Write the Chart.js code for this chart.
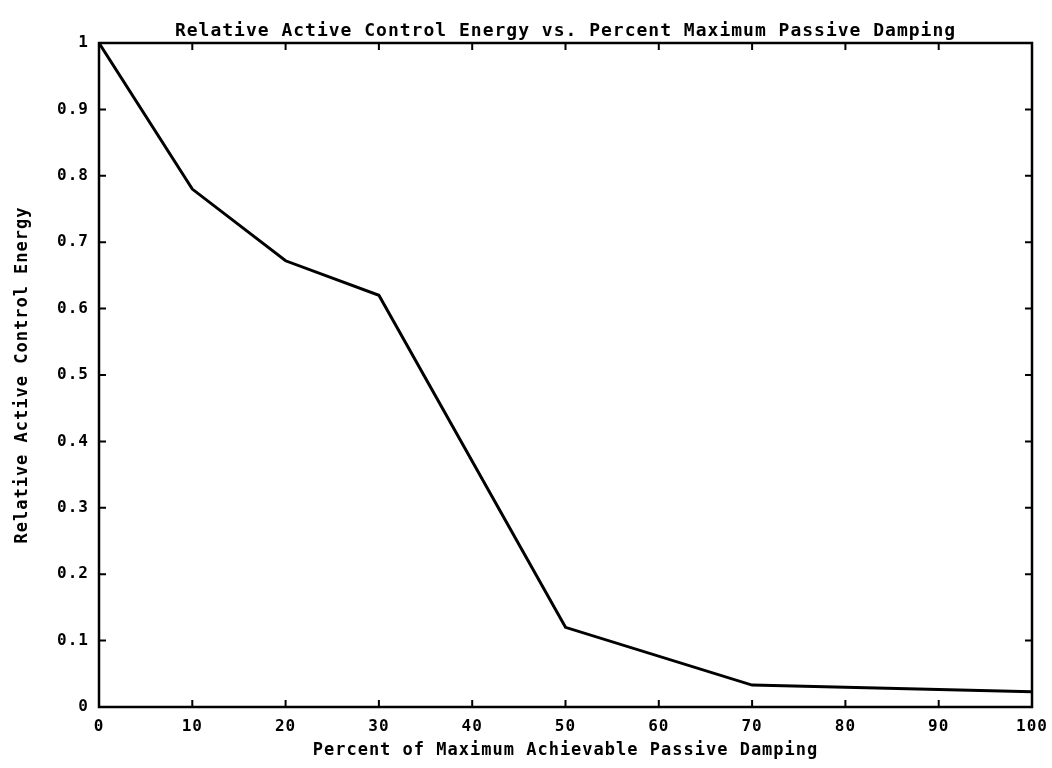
<!DOCTYPE html>
<html>
<head>
<meta charset="utf-8">
<title>Relative Active Control Energy</title>
<script src="https://cdn.jsdelivr.net/npm/chart.js@4/dist/chart.umd.min.js"></script>
<style>
    html, body { margin: 0; padding: 0; background: #fff; }
    #wrap { width: 1052px; height: 768px; }
</style>
</head>
<body>
<div id="wrap"><canvas id="energyChart" width="1052" height="768"></canvas></div>
<script>
// values
const dampingPercent = [0, 10, 20, 30, 50, 70, 100];
const relativeEnergy = [1, 0.78, 0.672, 0.62, 0.12, 0.033, 0.023];

const FONT = 'DejaVu Sans Mono';

// widen the text a bit, the old plotter font is very spaced out
const spacingPlugin = {
    id: 'spacing',
    beforeLayout(chart) { chart.ctx.letterSpacing = '1px'; },
    beforeDraw(chart) { chart.ctx.letterSpacing = '1px'; }
};

// box around the plot with inward tick marks on all four sides
const framePlugin = {
    id: 'frame',
    afterDraw(chart) {
        const { ctx, chartArea, scales } = chart;
        const { left, right, top, bottom } = chartArea;
        const len = 7;
        ctx.save();
        ctx.strokeStyle = '#000';
        ctx.lineWidth = 2.5;
        ctx.strokeRect(left, top, right - left, bottom - top);
        ctx.lineWidth = 2;
        ctx.beginPath();
        scales.x.ticks.forEach(t => {
            if (t.value <= 0 || t.value >= 100) return;
            const px = scales.x.getPixelForValue(t.value);
            ctx.moveTo(px, bottom); ctx.lineTo(px, bottom - len);
            ctx.moveTo(px, top); ctx.lineTo(px, top + len);
        });
        scales.y.ticks.forEach(t => {
            if (t.value <= 0 || t.value >= 1) return;
            const py = scales.y.getPixelForValue(t.value);
            ctx.moveTo(left, py); ctx.lineTo(left + len, py);
            ctx.moveTo(right, py); ctx.lineTo(right - len, py);
        });
        ctx.stroke();
        ctx.restore();
    }
};

const ctx = document.getElementById('energyChart').getContext('2d');

new Chart(ctx, {
    type: 'line',
    data: {
        datasets: [{
            data: dampingPercent.map((x, i) => ({ x: x, y: relativeEnergy[i] })),
            borderColor: '#000',
            borderWidth: 3,
            pointRadius: 0,
            tension: 0,
            fill: false
        }]
    },
    options: {
        responsive: false,
        animation: false,
        layout: { padding: { left: 0, right: 20, top: 0, bottom: 0 } },
        plugins: {
            legend: { display: false },
            tooltip: { enabled: false },
            title: {
                display: true,
                fullSize: false,
                text: 'Relative Active Control Energy vs. Percent Maximum Passive Damping',
                color: '#000',
                font: { family: FONT, size: 18, weight: 'bold', lineHeight: 1.2 },
                padding: { top: 21, bottom: 0.4 }
            }
        },
        scales: {
            x: {
                type: 'linear',
                min: 0,
                max: 100,
                grid: { display: false, drawTicks: false },
                border: { display: false },
                ticks: {
                    stepSize: 10,
                    color: '#000',
                    padding: 10,
                    maxRotation: 0,
                    font: { family: FONT, size: 16, weight: 'bold' }
                },
                title: {
                    display: true,
                    text: 'Percent of Maximum Achievable Passive Damping',
                    color: '#000',
                    font: { family: FONT, size: 17, weight: 'bold', lineHeight: 1.2 },
                    padding: { top: 0, bottom: 7 }
                },
                afterFit(scale) {
                    scale.height = 61;
                    scale.paddingLeft = 0;
                    scale.paddingRight = 0;
                }
            },
            y: {
                min: 0,
                max: 1,
                grid: { display: false, drawTicks: false },
                border: { display: false },
                ticks: {
                    stepSize: 0.1,
                    color: '#000',
                    padding: 10,
                    font: { family: FONT, size: 16, weight: 'bold' },
                    callback: v => String(Math.round(v * 10) / 10)
                },
                title: {
                    display: true,
                    text: 'Relative Active Control Energy',
                    color: '#000',
                    font: { family: FONT, size: 17, weight: 'bold', lineHeight: 1.2 },
                    padding: { top: 12, bottom: 0 }
                },
                afterFit(scale) {
                    scale.width = 99;
                    scale.paddingTop = 0;
                    scale.paddingBottom = 0;
                }
            }
        }
    },
    plugins: [spacingPlugin, framePlugin]
});
</script>
</body>
</html>
